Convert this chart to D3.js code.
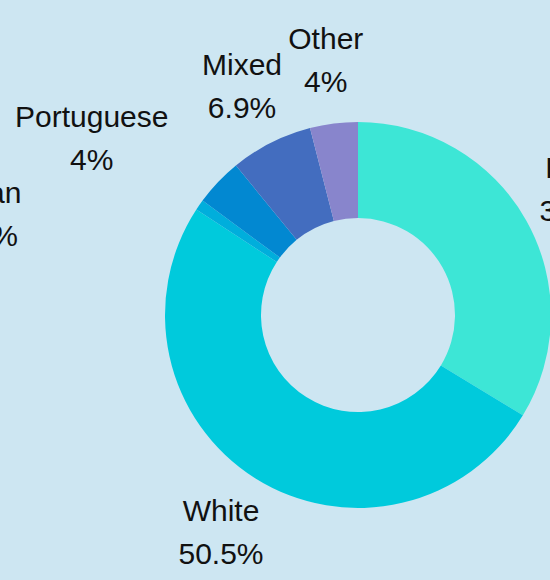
<!DOCTYPE html>
<html>
<head>
<meta charset="utf-8">
<script src="https://cdn.jsdelivr.net/npm/d3@7"></script>
<style>
  body { margin: 0; background: #cde6f2; }
  svg { display: block; }
</style>
</head>
<body>
<script>
// chart data
const groups = ["Black", "White", "Asian", "Portuguese", "Mixed", "Other"];
const shares = [33.7, 50.5, 0.9, 4, 6.9, 4];
const colors = ["#3de6d6", "#00cadc", "#00aedc", "#0288d1", "#436dbf", "#8885cc"];

const width = 550, height = 580;
const cx = 358, cy = 315;
const outerR = 193, innerR = 97, labelR = 257;

const svg = d3.select("body")
    .append("svg")
    .attr("width", width)
    .attr("height", height);

svg.append("rect")
    .attr("width", width)
    .attr("height", height)
    .attr("fill", "#cde6f2");

const pie = d3.pie().sort(null).value(d => d.v);
const arcs = pie(groups.map((g, i) => ({ g: g, v: shares[i], c: colors[i] })));

const arc = d3.arc().innerRadius(innerR).outerRadius(outerR);
const labelArc = d3.arc().innerRadius(labelR).outerRadius(labelR);

const g = svg.append("g").attr("transform", "translate(" + cx + "," + cy + ")");

// slices
g.selectAll("path")
    .data(arcs)
    .enter()
    .append("path")
    .attr("d", arc)
    .attr("fill", d => d.data.c);

// crowded labels on the left get pushed out of each other's way
const nudge = { "Portuguese": [-80, 0], "Asian": [-163, 45] };

const labels = g.selectAll("text.lbl")
    .data(arcs)
    .enter()
    .append("text")
    .attr("class", "lbl")
    .attr("text-anchor", "middle")
    .attr("font-family", "Liberation Sans, Arial, sans-serif")
    .attr("font-size", 30)
    .attr("fill", "#111")
    .attr("transform", d => {
        const p = labelArc.centroid(d);
        const n = nudge[d.data.g] || [0, 0];
        return "translate(" + (p[0] + n[0]) + "," + (p[1] + n[1]) + ")";
    });

labels.append("tspan")
    .attr("x", 0)
    .attr("y", -11)
    .text(d => d.data.g);

labels.append("tspan")
    .attr("x", 0)
    .attr("y", 32)
    .text(d => d.data.v + "%");
</script>
</body>
</html>
